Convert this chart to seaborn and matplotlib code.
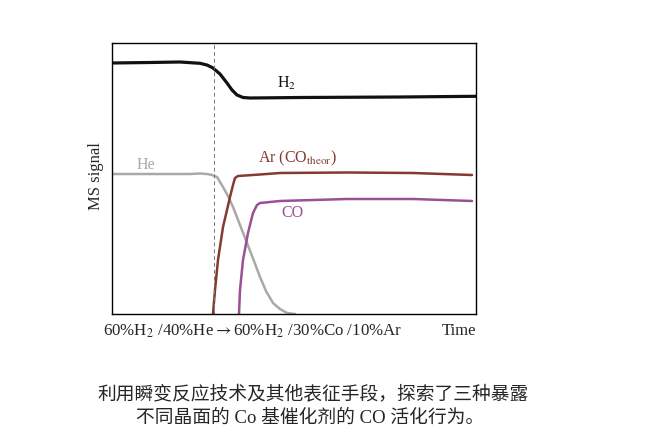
import matplotlib
matplotlib.use("Agg")
import matplotlib.pyplot as plt
import seaborn as sns
import pandas as pd

# ---- data (time units, signal units) ---- #
h2_t = [0, 38, 68, 88, 95, 101, 108, 115, 120, 125, 131, 138, 188, 288, 364]
h2_s = [251, 251.5, 252, 250.7, 249, 246, 240, 231, 224, 219, 216.5, 216, 216.5, 217, 217.7]

he_t = [0, 38, 78, 88, 95, 100, 105, 111, 116, 121, 128, 135, 142, 148, 154, 161, 168, 175, 183]
he_s = [140, 140, 140, 140.5, 140, 139, 137, 127, 118, 107, 89, 71, 53, 37, 23, 11, 5, 1, 0]

ar_t = [101, 103, 106, 111, 115, 118, 121, 123, 126, 148, 168, 235, 301, 360]
ar_s = [0, 24, 54, 87, 104, 117, 129, 136, 138, 139.5, 141, 141.5, 141, 139]

co_t = [127, 128, 131, 136, 141, 145, 148, 168, 235, 301, 360]
co_s = [0, 24, 54, 81, 101, 109, 111, 113, 115, 115, 113]

switch_t = 102

series = [
    ("H2", h2_t, h2_s, "#111111", 2.3),
    ("He", he_t, he_s, "#a9a9a9", 1.8),
    ("Ar", ar_t, ar_s, "#843a30", 1.8),
    ("CO", co_t, co_s, "#9b4f95", 1.8),
]

sns.set_style("white")
serif = ["Liberation Serif", "DejaVu Serif"]
plt.rcParams["font.family"] = serif
plt.rcParams["mathtext.fontset"] = "stix"

fig = plt.figure(figsize=(6.61, 4.40), dpi=100)
ax = fig.add_axes([112 / 661, 1 - 314 / 440, 364 / 661, 271 / 440])

for name, t, s, color, lw in series:
    df = pd.DataFrame({"t": t, "s": s})
    sns.lineplot(data=df, x="t", y="s", ax=ax, color=color, linewidth=lw,
                 sort=False, estimator=None)

ax.axvline(switch_t, color="#777777", lw=0.7, ls=(0, (4, 3)))

ax.set_xlim(0, 364)
ax.set_ylim(0, 271)
ax.set_xticks([])
ax.set_yticks([])
ax.set_xlabel("")
ax.set_ylabel("")
for sp in ax.spines.values():
    sp.set_color("black")
    sp.set_linewidth(1.0)

# curve labels
ax.text(165, 231, r"H$_2$", fontsize=11.5, color="#111111", ha="left", va="center")
ax.text(146, 156, r"Ar (CO$_{\mathrm{theor}}$)", fontsize=11.5, color="#843a30",
        ha="left", va="center")
ax.text(25, 149, "He", fontsize=11.5, color="#a9a9a9", ha="left", va="center")
ax.text(169, 101, "CO", fontsize=11.5, color="#9b4f95", ha="left", va="center")

# axis annotations
fig.text(96 / 661, 1 - 176 / 440, "MS signal", rotation=90, fontsize=12,
         ha="center", va="center")
fig.text(103 / 661, 1 - 331 / 440, r"60%H$_2$ /40%He$\rightarrow$60%H$_2$ /30%Co /10%Ar",
         fontsize=12.2, ha="left", va="center")
fig.text(476 / 661, 1 - 331 / 440, "Time", fontsize=12, ha="right", va="center")

# caption
cap = ["Liberation Serif", "Noto Sans CJK SC"]
fig.text(313 / 661, 1 - 394 / 440, "利用瞬变反应技术及其他表征手段，探索了三种暴露",
         family=cap, fontsize=13.5, ha="center", va="center")
fig.text(310 / 661, 1 - 418 / 440, "不同晶面的 Co 基催化剂的 CO 活化行为。",
         family=cap, fontsize=13.5, ha="center", va="center")

fig.savefig("out.png", dpi=100)
